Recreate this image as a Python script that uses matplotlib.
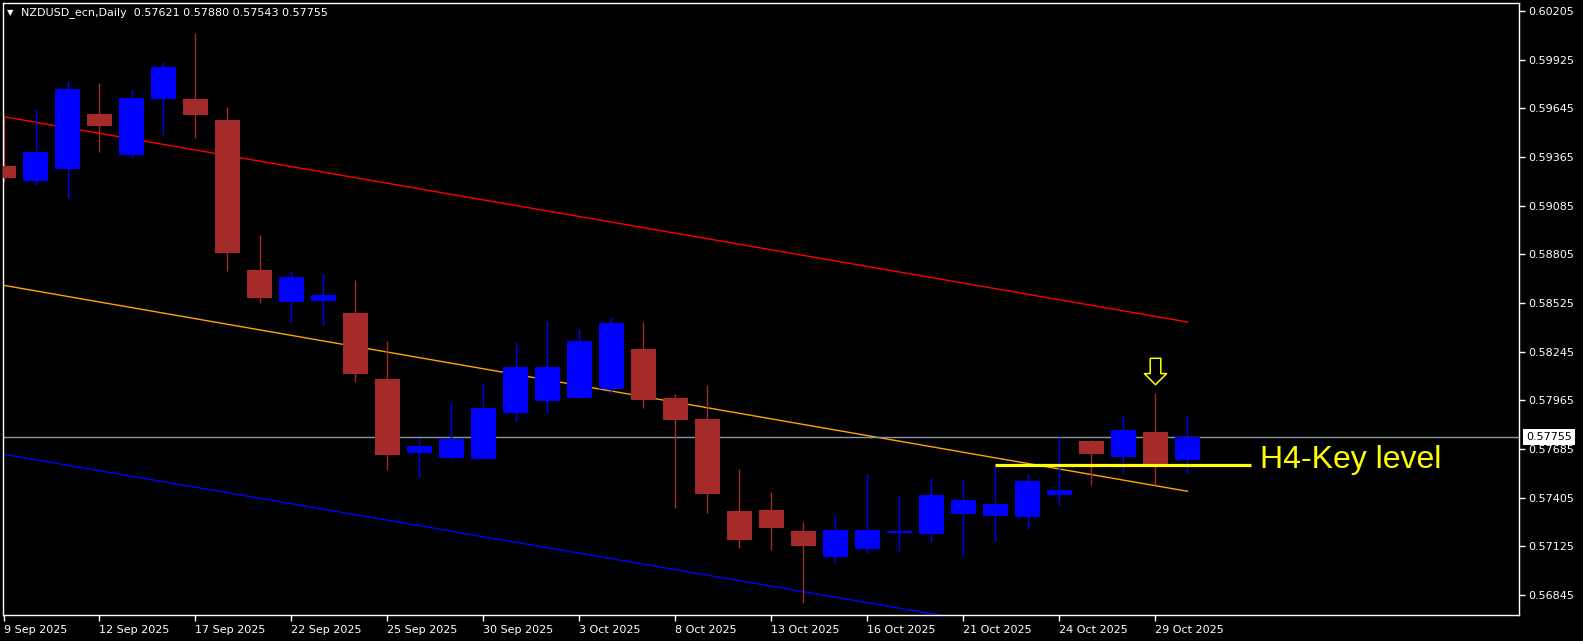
import matplotlib
matplotlib.use("Agg")
import matplotlib.pyplot as plt
from matplotlib.path import Path

# daily bars
dates = ["9 Sep", "10 Sep", "11 Sep", "12 Sep", "15 Sep", "16 Sep", "17 Sep", "18 Sep",
         "19 Sep", "22 Sep", "23 Sep", "24 Sep", "25 Sep", "26 Sep", "29 Sep", "30 Sep",
         "1 Oct", "2 Oct", "3 Oct", "6 Oct", "7 Oct", "8 Oct", "9 Oct", "10 Oct",
         "13 Oct", "14 Oct", "15 Oct", "16 Oct", "17 Oct", "20 Oct", "21 Oct", "22 Oct",
         "23 Oct", "24 Oct", "27 Oct", "28 Oct", "29 Oct", "30 Oct"]
opens = [0.59313, 0.59227, 0.59296, 0.59612, 0.59377, 0.59699, 0.59699, 0.59578,
         0.58715, 0.58533, 0.58537, 0.58468, 0.58088, 0.57664, 0.57635, 0.57628,
         0.57892, 0.57961, 0.57980, 0.58030, 0.58261, 0.57979, 0.57858, 0.57329,
         0.57334, 0.57213, 0.57066, 0.57110, 0.57202, 0.57198, 0.57313, 0.57302,
         0.57296, 0.57421, 0.57731, 0.57639, 0.57783, 0.57621]
highs = [0.59597, 0.59641, 0.59802, 0.59791, 0.59751, 0.59912, 0.60079, 0.59653,
         0.58916, 0.58709, 0.58692, 0.58657, 0.58307, 0.57747, 0.57950, 0.58065,
         0.58301, 0.58422, 0.58376, 0.58445, 0.58416, 0.58002, 0.58053, 0.57570,
         0.57438, 0.57265, 0.57302, 0.57541, 0.57417, 0.57518, 0.57507, 0.57593,
         0.57541, 0.57754, 0.57735, 0.57881, 0.58007, 0.57880]
lows = [0.59223, 0.59204, 0.59131, 0.59394, 0.59361, 0.59492, 0.59476, 0.58711,
        0.58527, 0.58412, 0.58399, 0.58071, 0.57566, 0.57524, 0.57626, 0.57625,
        0.57846, 0.57900, 0.57980, 0.58002, 0.57923, 0.57348, 0.57319, 0.57117,
        0.57106, 0.56801, 0.57031, 0.57089, 0.57094, 0.57152, 0.57077, 0.57158,
        0.57227, 0.57365, 0.57480, 0.57549, 0.57480, 0.57543]
closes = [0.59246, 0.59394, 0.59756, 0.59543, 0.59705, 0.59883, 0.59607, 0.58815,
          0.58556, 0.58675, 0.58571, 0.58118, 0.57652, 0.57702, 0.57743, 0.57921,
          0.58157, 0.58157, 0.58307, 0.58410, 0.57969, 0.57854, 0.57428, 0.57163,
          0.57232, 0.57129, 0.57219, 0.57219, 0.57213, 0.57421, 0.57392, 0.57369,
          0.57501, 0.57449, 0.57658, 0.57795, 0.57599, 0.57755]

# channel lines (start price at bar 0, end price at bar 37)
channel_top = [0.59597, 0.58416]
channel_mid = [0.58627, 0.57442]
channel_low = [0.57655, 0.56485]
key_level = 0.57593
arrow_price = 0.58134
price_ticks = [0.60205, 0.59925, 0.59645, 0.59365, 0.59085, 0.58805, 0.58525,
               0.58245, 0.57965, 0.57685, 0.57405, 0.57125, 0.56845]

W, H = 1583, 641
fig = plt.figure(figsize=(W / 100, H / 100), dpi=100, facecolor="black")
left, right, top, bottom = 2.7, 1519, 2.5, 615
ax = fig.add_axes([left / W, 1 - bottom / H, (right - left) / W, (bottom - top) / H])
ax.set_facecolor("black")

x = list(range(len(dates)))
cols = ["#0000ff" if c >= o else "#a52a2a" for o, c in zip(opens, closes)]
ax.vlines(x, lows, highs, colors=cols, linewidth=1, zorder=2)
ax.bar(x, [max(abs(c - o), 0.00003) for o, c in zip(opens, closes)],
       bottom=[min(o, c) for o, c in zip(opens, closes)],
       width=0.78, color=cols, linewidth=0, zorder=3)

n = len(dates) - 1
ax.plot([0, n], channel_top, color="#ff0000", lw=1, zorder=1)
ax.plot([0, n], channel_mid, color="#ffa500", lw=1, zorder=1)
ax.plot([0, n], channel_low, color="#0000ff", lw=1, zorder=1)
ax.axhline(closes[-1], color="#8a96a3", lw=1, zorder=1)

ax.hlines(key_level, 31, 39, color="#ffff00", lw=2.3, zorder=4)
ax.text(39.27, key_level - 0.00017, "H4-Key level", color="#ffff00", fontsize=23,
        family="Liberation Sans", va="baseline", ha="left")

arrow = Path([(-0.2, 0.5), (0.2, 0.5), (0.2, -0.08), (0.42, -0.08), (0, -0.5),
              (-0.42, -0.08), (-0.2, -0.08), (-0.2, 0.5)])
ax.plot(36, arrow_price, marker=arrow, markersize=19, markerfacecolor="black",
        markeredgecolor="#ffff00", markeredgewidth=1.1, zorder=5)

ax.set_xlim((left - 3.5) / 32, (right - 3.5) / 32)
ax.set_ylim(0.602683 - bottom * 5.753e-5, 0.602683 - top * 5.753e-5)

for s in ax.spines.values():
    s.set_color("white")
    s.set_linewidth(1)

ax.yaxis.tick_right()
ax.set_yticks(price_ticks)
ax.set_yticklabels([f"{p:.5f}" for p in price_ticks])
ax.tick_params(axis="y", colors="white", labelsize=8, length=4, width=1, pad=3)
ax.set_xticks(x[::3])
ax.set_xticklabels([d + " 2025" for d in dates[::3]], ha="left")
ax.tick_params(axis="x", colors="white", labelsize=8, length=4, width=1, pad=3)

ax.annotate(f"{closes[-1]:.5f}", xy=(1.0, closes[-1]), xycoords=("axes fraction", "data"),
            xytext=(7, 0), textcoords="offset pixels", ha="left", va="center",
            fontsize=8, color="black", annotation_clip=False, zorder=10,
            bbox=dict(boxstyle="square,pad=0.25", fc="white", ec="none"))

fig.text(7 / W, 1 - 13 / H, "\u25bc", color="white", fontsize=6, va="center")
fig.text(21 / W, 1 - 13 / H,
         f"NZDUSD_ecn,Daily  {opens[-1]:.5f} {highs[-1]:.5f} {lows[-1]:.5f} {closes[-1]:.5f}",
         color="white", fontsize=8, va="center")

fig.savefig("out.png", dpi=100, facecolor="black")
